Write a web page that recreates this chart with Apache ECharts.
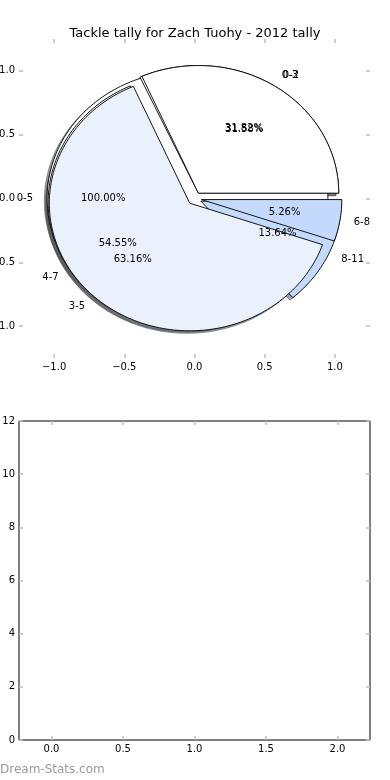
<!DOCTYPE html>
<html><head><meta charset="utf-8">
<script src="https://cdn.jsdelivr.net/npm/echarts@6/dist/echarts.min.js"></script>
<style>html,body{margin:0;padding:0;background:#fff}#c{width:390px;height:780px}</style>
</head><body><div id="c"></div>
<script>
const titleText = 'Tackle tally for Zach Tuohy - 2012 tally';
const watermarkText = 'Dream-Stats.com';
// three overlapping pies (drawn in this order)
const pieALabels = ['0-5'];
const pieAValues = [1];
const pieBLabels = ['0-3', '4-7', '8-11'];
const pieBValues = [7, 12, 3];
const pieCLabels = ['0-2', '3-5', '6-8'];
const pieCValues = [6, 12, 1];
const sliceColors = ['#ffffff', '#eaf0fc', '#c5d9fc'];
const pieTicks = [-1, -0.5, 0, 0.5, 1];
const barXTicks = [0, 0.5, 1, 1.5, 2];
const barYTicks = [0, 2, 4, 6, 8, 10, 12];

const EXPLODE = 0.05, LABEL_DIST = 1.1, PCT_DIST = 0.6, SHADOW_OFF = -0.02;
const FONT = 'DejaVu Sans';

function slices(values) {
  const total = values.reduce((a, b) => a + b, 0);
  let acc = 0;
  return values.map((v, i) => {
    const t1 = acc / total * 360; acc += v; const t2 = acc / total * 360;
    return [t1, t2, i, v / total * 100];
  });
}
function centerOf(t1, t2) {
  const m = (t1 + t2) / 2 * Math.PI / 180;
  return [EXPLODE * Math.cos(m), EXPLODE * Math.sin(m), m];
}
function wedgePts(api, cx, cy, t1, t2) {
  const pts = [];
  const full = t2 - t1 >= 359.999;
  if (!full) pts.push(api.coord([cx, cy]));
  const n = Math.max(6, Math.ceil((t2 - t1) / 1.5));
  for (let i = 0; i <= n; i++) {
    const t = (t1 + (t2 - t1) * i / n) * Math.PI / 180;
    pts.push(api.coord([cx + Math.cos(t), cy + Math.sin(t)]));
  }
  return pts;
}
function shade(hex) {
  const r = parseInt(hex.slice(1, 3), 16) * 0.3, g = parseInt(hex.slice(3, 5), 16) * 0.3, b = parseInt(hex.slice(5, 7), 16) * 0.3;
  return `rgb(${r|0},${g|0},${b|0})`;
}
function pieSeries(values, z, shadow) {
  return {
    type: 'custom', xAxisIndex: 0, yAxisIndex: 0, z: z, clip: false, silent: true,
    data: slices(values),
    encode: { x: -1, y: -1 },
    renderItem: function (params, api) {
      const t1 = api.value(0), t2 = api.value(1), ci = api.value(2);
      const c = centerOf(t1, t2);
      const off = shadow ? SHADOW_OFF : 0;
      const col = sliceColors[ci];
      return {
        type: 'polygon',
        shape: { points: wedgePts(api, c[0] + off, c[1] + off, t1, t2) },
        style: shadow ? { fill: shade(col), stroke: shade(col), opacity: 0.5, lineWidth: 1 }
                      : { fill: col, stroke: '#000', lineWidth: 0.9 }
      };
    }
  };
}
function labelSeries(labels, values, z) {
  return {
    type: 'custom', xAxisIndex: 0, yAxisIndex: 0, z: z, clip: false, silent: true,
    data: slices(values),
    encode: { x: -1, y: -1 },
    renderItem: function (params, api) {
      const t1 = api.value(0), t2 = api.value(1), pct = api.value(3);
      const c = centerOf(t1, t2), m = c[2];
      const lx = c[0] + LABEL_DIST * Math.cos(m), ly = c[1] + LABEL_DIST * Math.sin(m);
      const px = c[0] + PCT_DIST * Math.cos(m), py = c[1] + PCT_DIST * Math.sin(m);
      const lp = api.coord([lx, ly]), pp = api.coord([px, py]);
      return {
        type: 'group', children: [
          { type: 'text', x: lp[0], y: lp[1], style: { text: labels[params.dataIndex], font: '10px ' + FONT, fill: '#000', align: lx > 0 ? 'left' : 'right', verticalAlign: 'middle' } },
          { type: 'text', x: pp[0], y: pp[1], style: { text: pct.toFixed(2) + '%', font: '10px ' + FONT, fill: '#000', align: 'center', verticalAlign: 'middle' } }
        ]
      };
    }
  };
}
const fmt1 = v => (v < 0 ? '\u2212' : '') + Math.abs(v).toFixed(1);
const tickStyle = { show: true, inside: true, length: 4, lineStyle: { color: '#bdbdbd', width: 1.5 } };
function axis(gridIndex, pos, min, max, ticks, fmt, showLabel) {
  return {
    type: 'value', gridIndex: gridIndex, position: pos, min: min, max: max,
    axisLine: { show: false, onZero: false },
    splitLine: { show: false },
    axisTick: Object.assign({ customValues: ticks }, tickStyle),
    axisLabel: { show: showLabel, customValues: ticks, formatter: fmt, margin: 4, color: '#000', fontSize: 10, fontFamily: FONT, hideOverlap: false }
  };
}
const chart = echarts.init(document.getElementById('c'), null, { renderer: 'canvas' });
chart.setOption({
  animation: false,
  backgroundColor: '#fff',
  title: { text: titleText, left: 'center', top: 22, textStyle: { fontSize: 13, fontWeight: 'normal', fontFamily: FONT, color: '#000' } },
  graphic: [{ type: 'text', left: 0, top: 764, style: { text: watermarkText, font: '12px ' + FONT, fill: '#9a9a9a' } }],
  grid: [
    { left: 19, top: 39, width: 351, height: 319, show: false, containLabel: false, outerBoundsMode: 'none' },
    { left: 19, top: 421, width: 351, height: 319, show: true, borderColor: '#000', borderWidth: 1, backgroundColor: 'transparent', containLabel: false, outerBoundsMode: 'none' }
  ],
  xAxis: [
    axis(0, 'bottom', -1.25, 1.25, pieTicks, fmt1, true),
    axis(0, 'top', -1.25, 1.25, pieTicks, fmt1, false),
    axis(1, 'bottom', -0.227, 2.227, barXTicks, fmt1, true),
    axis(1, 'top', -0.227, 2.227, barXTicks, fmt1, false)
  ],
  yAxis: [
    axis(0, 'left', -1.25, 1.25, pieTicks, fmt1, true),
    axis(0, 'right', -1.25, 1.25, pieTicks, fmt1, false),
    axis(1, 'left', 0, 12, barYTicks, v => String(v), true),
    axis(1, 'right', 0, 12, barYTicks, v => String(v), false)
  ],
  series: [
    pieSeries(pieAValues, 1, true),
    pieSeries(pieBValues, 1, true),
    pieSeries(pieCValues, 1, true),
    pieSeries(pieAValues, 2, false),
    pieSeries(pieBValues, 3, false),
    pieSeries(pieCValues, 4, false),
    labelSeries(pieALabels, pieAValues, 6),
    labelSeries(pieBLabels, pieBValues, 6),
    labelSeries(pieCLabels, pieCValues, 6)
  ]
});
</script></body></html>
